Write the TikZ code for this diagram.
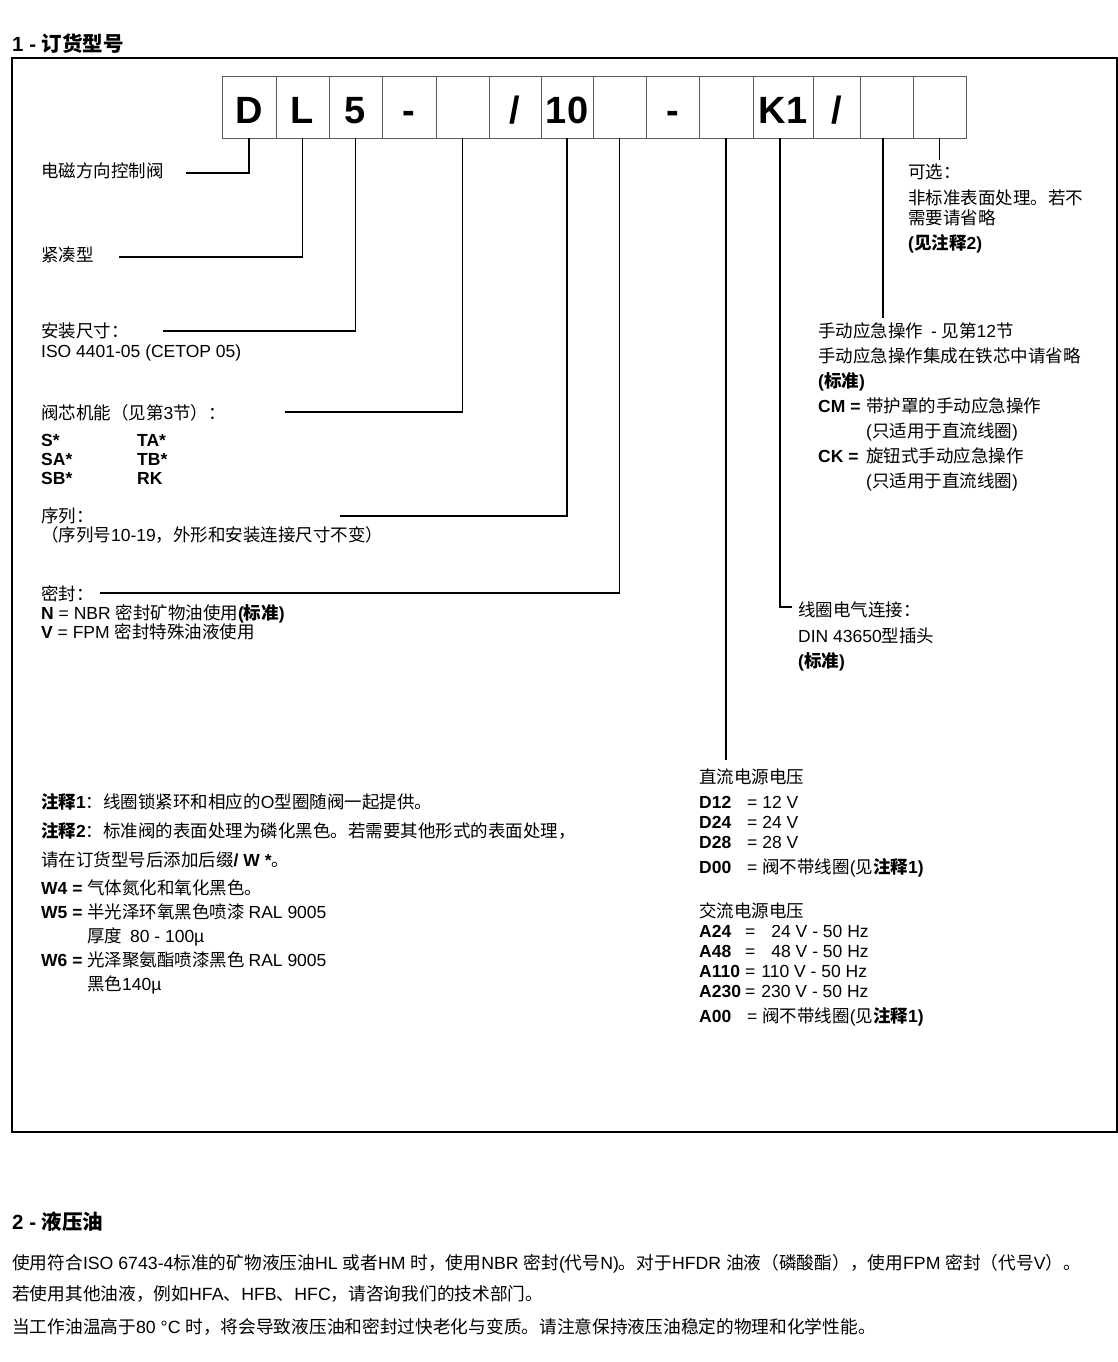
\documentclass[tikz,border=0pt]{standalone}
\usepackage{fontspec}
\setmainfont{Liberation Sans}
\newfontfamily\latf{Liberation Sans}[NFSSFamily=latfam]
\newfontfamily\cjkf{Noto Sans CJK SC}[NFSSFamily=cjkfam]
\XeTeXinterchartokenstate=1
\newXeTeXintercharclass\cjkcls
\newcount\cjkcnt
\def\setcjkrange#1#2{\cjkcnt=#1\relax\loop\XeTeXcharclass\cjkcnt=\cjkcls\relax\ifnum\cjkcnt<#2\relax\advance\cjkcnt by 1\relax\repeat}
\setcjkrange{"4E00}{"9FFF}
\setcjkrange{"3000}{"303F}
\setcjkrange{"FF00}{"FFEF}
\newcommand\tocjk{\fontfamily{cjkfam}\selectfont}
\newcommand\tolat{\fontfamily{latfam}\selectfont}
\XeTeXinterchartoks 0 \cjkcls = {\tocjk}
\XeTeXinterchartoks 4095 \cjkcls = {\tocjk}
\XeTeXinterchartoks \cjkcls 0 = {\tolat}
\XeTeXinterchartoks 4095 0 = {\tolat}
\definecolor{boxgray}{HTML}{5A5A5A}
\tikzset{
 txt/.style={anchor=base west, inner sep=0pt, font=\fontsize{17.5}{20}\selectfont},
 para/.style={anchor=base west, inner sep=0pt, font=\fontsize{17.7}{20}\selectfont},
 ttl/.style={anchor=base west, inner sep=0pt, font=\fontsize{20.5}{24}\selectfont\bfseries},
 cell/.style={draw=boxgray, line width=0.9pt, minimum height=62pt, inner sep=0pt, text height=34pt, text depth=0pt, font=\fontsize{38}{40}\selectfont\bfseries},
 lead/.style={line width=1.2pt, draw=black},
 frm/.style={line width=1.3pt, draw=black}
}
\begin{document}
\begin{tikzpicture}[x=1pt,y=-1pt]
\useasboundingbox (0,0) rectangle (1118,1362);
% title
\node[ttl] (t1) at (12,52) {1 - 订货型号};
\draw[frm] (12,58) rectangle (1117,1132);
% code boxes
\node[cell, minimum width=54pt] (b1) at (249,107) {D};
\node[cell, minimum width=53pt] (b2) at (302.5,107) {L};
\node[cell, minimum width=53pt] (b3) at (355.5,107) {5};
\node[cell, minimum width=54pt] (b4) at (409,107) {-};
\node[cell, minimum width=53pt] (b5) at (462.5,107) {};
\node[cell, minimum width=52pt] (b6) at (515,107) {/};
\node[cell, minimum width=52pt] (b7) at (567,107) {10};
\node[cell, minimum width=53pt] (b8) at (619.5,107) {};
\node[cell, minimum width=53pt] (b9) at (672.5,107) {-};
\node[cell, minimum width=54pt] (b10) at (726,107) {};
\node[cell, minimum width=60pt] (b11) at (783,107) {K1};
\node[cell, minimum width=47pt] (b12) at (836.5,107) {/};
\node[cell, minimum width=53pt] (b13) at (886.5,107) {};
\node[cell, minimum width=53pt] (b14) at (939.5,107) {};
% leader ends
\coordinate (eD) at (186,173);
\coordinate (eL) at (119,257);
\coordinate (eS) at (163,331);
\coordinate (eF) at (285,412);
\coordinate (eR) at (340,516);
\coordinate (eSe) at (100,593);
\coordinate (eV) at (726,760);
\coordinate (eC) at (792,607);
\coordinate (eM) at (883,318);
\coordinate (eO) at (939.5,160);
\draw[lead] (b1.south) |- (eD);
\draw[lead] (b2.south) |- (eL);
\draw[lead] (b3.south) |- (eS);
\draw[lead] (b5.south) |- (eF);
\draw[lead] (b7.south) |- (eR);
\draw[lead] (b8.south) |- (eSe);
\draw[lead] (b10.south) -- (eV);
\draw[lead] ([xshift=-3pt]b11.south) |- (eC);
\draw[lead] ([xshift=-3.5pt]b13.south) -- (eM);
\draw[lead] (b14.south) -- (eO);
% left labels
\node[txt] (l1) at (41,177) {电磁方向控制阀};
\node[txt] (l2) at (41,261) {紧凑型};
\node[txt] (l3) at (41,337) {安装尺寸：};
\node[txt] (l4) at (41,357) {ISO 4401-05 (CETOP 05)};
\node[txt] (l5) at (41,419) {阀芯机能（见第3节）：};
\node[txt] (l6a) at (41,446) {\textbf{S*}};
\node[txt] (l6b) at (137,446) {\textbf{TA*}};
\node[txt] (l7a) at (41,465) {\textbf{SA*}};
\node[txt] (l7b) at (137,465) {\textbf{TB*}};
\node[txt] (l8a) at (41,484) {\textbf{SB*}};
\node[txt] (l8b) at (137,484) {\textbf{RK}};
\node[txt] (l9) at (41,522) {序列：};
\node[txt] (l10) at (41,541) {（序列号10-19，外形和安装连接尺寸不变）};
\node[txt] (l11) at (41,600) {密封：};
\node[txt] (l12) at (41,619) {\textbf{N} = NBR 密封矿物油使用\textbf{(标准)}};
\node[txt] (l13) at (41,638) {\textbf{V} = FPM 密封特殊油液使用};
% optional
\node[txt] (r1) at (908,178) {可选：};
\node[txt] (r2) at (908,204) {非标准表面处理。若不};
\node[txt] (r3) at (908,224) {需要请省略};
\node[txt] (r4) at (908,249) {\textbf{(见注释2)}};
% manual override
\node[txt] (m1) at (818,337) {手动应急操作~ - 见第12节};
\node[txt] (m2) at (818,362) {手动应急操作集成在铁芯中请省略};
\node[txt] (m3) at (818,387) {\textbf{(标准)}};
\node[txt] (m4) at (818,412) {\makebox[48pt][l]{\textbf{CM =}}带护罩的手动应急操作};
\node[txt] (m5) at (866,437) {(只适用于直流线圈)};
\node[txt] (m6) at (818,462) {\makebox[48pt][l]{\textbf{CK =}}旋钮式手动应急操作};
\node[txt] (m7) at (866,487) {(只适用于直流线圈)};
% coil connection
\node[txt] (c1) at (798,616) {线圈电气连接：};
\node[txt] (c2) at (798,642) {DIN 43650型插头};
\node[txt] (c3) at (798,667) {\textbf{(标准)}};
% notes
\node[txt] (n1) at (41,808) {\textbf{注释1}：线圈锁紧环和相应的O型圈随阀一起提供。};
\node[txt] (n2) at (41,837) {\textbf{注释2}：标准阀的表面处理为磷化黑色。若需要其他形式的表面处理，};
\node[txt] (n3) at (41,866) {请在订货型号后添加后缀\textbf{/ W *}。};
\node[txt] (n4) at (41,894) {\makebox[46pt][l]{\textbf{W4 =}}气体氮化和氧化黑色。};
\node[txt] (n5) at (41,918) {\makebox[46pt][l]{\textbf{W5 =}}半光泽环氧黑色喷漆 RAL 9005};
\node[txt] (n6) at (87,942) {厚度~ 80 - 100µ};
\node[txt] (n7) at (41,966) {\makebox[46pt][l]{\textbf{W6 =}}光泽聚氨酯喷漆黑色 RAL 9005};
\node[txt] (n8) at (87,990) {黑色140µ};
% voltages
\node[txt] (v1) at (699,783) {直流电源电压};
\node[txt] (v2) at (699,808) {\makebox[48pt][l]{\textbf{D12}}= 12 V};
\node[txt] (v3) at (699,828) {\makebox[48pt][l]{\textbf{D24}}= 24 V};
\node[txt] (v4) at (699,848) {\makebox[48pt][l]{\textbf{D28}}= 28 V};
\node[txt] (v5) at (699,873) {\makebox[48pt][l]{\textbf{D00}}= 阀不带线圈(见\textbf{注释1)}};
\node[txt] (v6) at (699,917) {交流电源电压};
\node[txt] (v7) at (699,937) {\makebox[46pt][l]{\textbf{A24}}=\hspace{16pt}24 V - 50 Hz};
\node[txt] (v8) at (699,957) {\makebox[46pt][l]{\textbf{A48}}=\hspace{16pt}48 V - 50 Hz};
\node[txt] (v9) at (699,977) {\makebox[46pt][l]{\textbf{A110}}=\hspace{6pt}110 V - 50 Hz};
\node[txt] (v10) at (699,997) {\makebox[46pt][l]{\textbf{A230}}=\hspace{6pt}230 V - 50 Hz};
\node[txt] (v11) at (699,1022) {\makebox[48pt][l]{\textbf{A00}}= 阀不带线圈(见\textbf{注释1)}};
% section 2
\node[ttl] (t2) at (12,1229) {2 - 液压油};
\node[para] (p1) at (12,1269) {使用符合ISO 6743-4标准的矿物液压油HL 或者HM 时，使用NBR 密封(代号N)。对于HFDR 油液（磷酸酯），使用FPM 密封（代号V）。};
\node[para] (p2) at (12,1300) {若使用其他油液，例如HFA、HFB、HFC，请咨询我们的技术部门。};
\node[para] (p3) at (12,1333) {当工作油温高于80 °C 时，将会导致液压油和密封过快老化与变质。请注意保持液压油稳定的物理和化学性能。};
\end{tikzpicture}
\end{document}
